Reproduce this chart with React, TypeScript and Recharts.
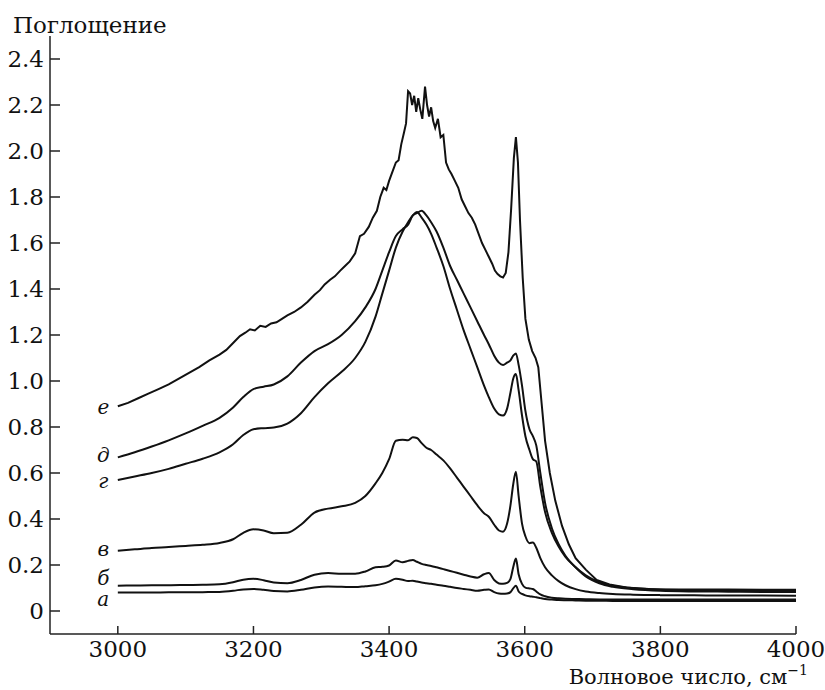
import React from 'react';
import { LineChart, Line, XAxis, YAxis, ReferenceDot, Label } from 'recharts';

// Shared wavenumber grid for curves а–д (cm^-1)
const wavenumbers = [
  3000, 3025, 3050, 3075, 3100, 3125, 3150, 3170, 3185, 3200, 3215, 3230, 3250, 3270, 3290, 3310, 3330, 3350,
  3365, 3380, 3390, 3400, 3410, 3420, 3428, 3435, 3441, 3448, 3455, 3462, 3470, 3480, 3490, 3500, 3510, 3520,
  3530, 3540, 3547, 3555, 3562, 3568, 3574, 3579, 3583, 3587, 3591, 3596, 3601, 3607, 3612, 3617, 3623, 3630,
  3640, 3650, 3660, 3675, 3690, 3710, 3730, 3760, 3800, 3850, 3900, 3950, 4000,
];

const curveA = [
  0.080, 0.080, 0.080, 0.081, 0.081, 0.082, 0.083, 0.088, 0.094, 0.096, 0.092, 0.087, 0.085, 0.092, 0.102, 0.106, 0.105, 0.104,
  0.108, 0.112, 0.118, 0.128, 0.140, 0.136, 0.130, 0.132, 0.128, 0.124, 0.121, 0.118, 0.114, 0.110, 0.105, 0.100, 0.096, 0.092,
  0.088, 0.092, 0.094, 0.082, 0.076, 0.075, 0.076, 0.082, 0.098, 0.110, 0.085, 0.074, 0.068, 0.064, 0.062, 0.060, 0.056, 0.052,
  0.050, 0.048, 0.047, 0.046, 0.045, 0.045, 0.044, 0.044, 0.043, 0.043, 0.043, 0.043, 0.043,
];

const curveB = [
  0.110, 0.111, 0.112, 0.112, 0.113, 0.114, 0.116, 0.125, 0.136, 0.140, 0.134, 0.124, 0.121, 0.135, 0.158, 0.165, 0.162, 0.162,
  0.172, 0.190, 0.192, 0.198, 0.220, 0.212, 0.218, 0.222, 0.214, 0.205, 0.200, 0.196, 0.190, 0.182, 0.174, 0.166, 0.158, 0.150,
  0.145, 0.160, 0.165, 0.135, 0.120, 0.118, 0.122, 0.140, 0.190, 0.228, 0.160, 0.118, 0.102, 0.098, 0.096, 0.085, 0.072, 0.064,
  0.058, 0.055, 0.053, 0.052, 0.051, 0.050, 0.050, 0.050, 0.050, 0.050, 0.050, 0.050, 0.050,
];

const curveV = [
  0.262, 0.268, 0.274, 0.278, 0.283, 0.288, 0.296, 0.312, 0.340, 0.355, 0.350, 0.338, 0.340, 0.375, 0.428, 0.445, 0.455, 0.470,
  0.500, 0.555, 0.600, 0.660, 0.740, 0.745, 0.742, 0.755, 0.752, 0.730, 0.710, 0.700, 0.680, 0.655, 0.620, 0.580, 0.540, 0.500,
  0.460, 0.425, 0.410, 0.375, 0.350, 0.345, 0.380, 0.460, 0.550, 0.605, 0.500, 0.380, 0.325, 0.295, 0.298, 0.275, 0.230, 0.190,
  0.155, 0.130, 0.112, 0.095, 0.085, 0.078, 0.074, 0.071, 0.069, 0.068, 0.067, 0.067, 0.066,
];

const curveG = [
  0.570, 0.585, 0.600, 0.618, 0.640, 0.662, 0.690, 0.725, 0.765, 0.790, 0.795, 0.798, 0.815, 0.860, 0.930, 0.990, 1.040, 1.100,
  1.170, 1.280, 1.380, 1.480, 1.580, 1.650, 1.690, 1.720, 1.735, 1.710, 1.680, 1.640, 1.580, 1.500, 1.400, 1.310, 1.220, 1.140,
  1.060, 0.980, 0.930, 0.880, 0.855, 0.850, 0.880, 0.950, 1.010, 1.030, 0.960, 0.850, 0.760, 0.700, 0.660, 0.650, 0.540, 0.430,
  0.340, 0.280, 0.235, 0.190, 0.150, 0.120, 0.105, 0.095, 0.088, 0.085, 0.084, 0.083, 0.083,
];

const curveD = [
  0.668, 0.690, 0.715, 0.742, 0.772, 0.805, 0.840, 0.885, 0.930, 0.965, 0.975, 0.985, 1.020, 1.080, 1.130, 1.160, 1.200, 1.260,
  1.320, 1.400, 1.480, 1.560, 1.630, 1.660, 1.680, 1.720, 1.730, 1.740, 1.720, 1.690, 1.650, 1.580, 1.500, 1.440, 1.380, 1.320,
  1.260, 1.200, 1.160, 1.110, 1.080, 1.070, 1.080, 1.090, 1.110, 1.120, 1.070, 0.980, 0.870, 0.790, 0.760, 0.720, 0.600, 0.470,
  0.360, 0.290, 0.240, 0.190, 0.155, 0.125, 0.110, 0.100, 0.093, 0.090, 0.089, 0.088, 0.088,
];

// Denser grid for the noisy top curve е
const wavenumbersE = [
  3000, 3015, 3030, 3045, 3060, 3075, 3090, 3105, 3120, 3135, 3150, 3160, 3170, 3180, 3188, 3195, 3202, 3210, 3218, 3226,
  3234, 3242, 3250, 3260, 3270, 3280, 3290, 3298, 3305, 3313, 3320, 3328, 3335, 3342, 3350, 3357, 3363, 3370, 3376, 3382,
  3387, 3392, 3396, 3400, 3405, 3410, 3414, 3418, 3422, 3425, 3428, 3431, 3434, 3437, 3440, 3443, 3446, 3449, 3453, 3456,
  3459, 3462, 3465, 3468, 3472, 3476, 3480, 3484, 3488, 3492, 3497, 3502, 3507, 3512, 3517, 3522, 3527, 3532, 3537, 3542,
  3547, 3552, 3556, 3560, 3564, 3568, 3572, 3576, 3580, 3584, 3587, 3590, 3593, 3597, 3601, 3606, 3611, 3616, 3620, 3625,
  3630, 3637, 3645, 3655, 3665, 3675, 3690, 3706, 3725, 3750, 3780, 3800, 3850, 3900, 3950, 4000,
];

const curveE = [
  0.890, 0.905, 0.925, 0.945, 0.965, 0.985, 1.010, 1.035, 1.060, 1.090, 1.115, 1.135, 1.165, 1.195, 1.210, 1.225, 1.220, 1.240, 1.235, 1.250,
  1.255, 1.270, 1.285, 1.300, 1.320, 1.345, 1.375, 1.395, 1.420, 1.440, 1.455, 1.480, 1.500, 1.520, 1.555, 1.630, 1.640, 1.670, 1.710, 1.740,
  1.800, 1.840, 1.830, 1.870, 1.910, 1.950, 1.960, 2.030, 2.080, 2.120, 2.260, 2.250, 2.200, 2.240, 2.170, 2.230, 2.180, 2.140, 2.280, 2.200,
  2.150, 2.190, 2.130, 2.100, 2.140, 2.060, 2.070, 1.950, 1.920, 1.900, 1.870, 1.840, 1.790, 1.760, 1.730, 1.710, 1.680, 1.640, 1.600, 1.570,
  1.540, 1.510, 1.480, 1.465, 1.455, 1.450, 1.470, 1.560, 1.750, 1.970, 2.060, 1.950, 1.700, 1.450, 1.270, 1.180, 1.130, 1.100, 1.060, 0.900,
  0.740, 0.600, 0.480, 0.370, 0.290, 0.230, 0.180, 0.135, 0.115, 0.102, 0.096, 0.094, 0.093, 0.093, 0.092, 0.092,
];

const xTicks = [3000, 3200, 3400, 3600, 3800, 4000];
const yTicks = [0, 0.2, 0.4, 0.6, 0.8, 1.0, 1.2, 1.4, 1.6, 1.8, 2.0, 2.2, 2.4];

const curveLetters = ['а', 'б', 'в', 'г', 'д', 'е'];
const letterX = 2978.6;
const letterY = [0.05, 0.14, 0.265, 0.562, 0.675, 0.883];

const toRows = (xs: number[], ys: number[]) => xs.map((x, i) => ({ x, y: ys[i] }));

const series = [
  { key: 'a', rows: toRows(wavenumbers, curveA), type: 'monotone' },
  { key: 'b', rows: toRows(wavenumbers, curveB), type: 'monotone' },
  { key: 'v', rows: toRows(wavenumbers, curveV), type: 'monotone' },
  { key: 'g', rows: toRows(wavenumbers, curveG), type: 'monotone' },
  { key: 'd', rows: toRows(wavenumbers, curveD), type: 'monotone' },
  { key: 'e', rows: toRows(wavenumbersE, curveE), type: 'linear' },
];

const FONT = 'DejaVu Serif';
const INK = '#111';
const textStyle = { fontFamily: FONT };

export default function App() {
  return (
    <div style={{ position: 'absolute', left: 0, top: 0, background: '#fff', fontFamily: FONT }}>
      <LineChart width={825} height={690} margin={{ top: 36, right: 29, left: 0, bottom: 0 }} style={textStyle}>
        <XAxis
          type="number"
          dataKey="x"
          domain={[2900, 4000]}
          ticks={xTicks}
          interval={0}
          allowDataOverflow
          height={56}
          tickSize={-8}
          tickMargin={15}
          axisLine={{ stroke: '#222', strokeWidth: 1.5 }}
          tickLine={{ stroke: '#222', strokeWidth: 1.5 }}
          tick={{ fill: INK, fontSize: 23, fontFamily: FONT, style: textStyle }}
        >
          <Label
            content={() => (
              <text x={808} y={684} textAnchor="end" fill={INK} fontSize={21} style={textStyle}>
                Волновое число, см
                <tspan dy={-9} fontSize={14}>−1</tspan>
              </text>
            )}
          />
        </XAxis>
        <YAxis
          type="number"
          domain={[-0.1, 2.5]}
          ticks={yTicks}
          interval={0}
          allowDataOverflow
          width={50}
          tickSize={-10}
          tickMargin={16}
          axisLine={{ stroke: '#222', strokeWidth: 1.5 }}
          tickLine={{ stroke: '#222', strokeWidth: 1.5 }}
          tick={{ fill: INK, fontSize: 23, fontFamily: FONT, style: textStyle }}
          tickFormatter={(v: number) => (v === 0 ? '0' : v.toFixed(1))}
        >
          <Label
            content={() => (
              <text x={13} y={33} fill={INK} fontSize={23} style={textStyle}>
                Поглощение
              </text>
            )}
          />
        </YAxis>
        {series.map((s) => (
          <Line
            key={s.key}
            data={s.rows}
            dataKey="y"
            type={s.type as any}
            stroke={INK}
            strokeWidth={2}
            dot={false}
            activeDot={false}
            isAnimationActive={false}
          />
        ))}
        {curveLetters.map((letter, i) => (
          <ReferenceDot
            key={letter}
            x={letterX}
            y={letterY[i]}
            r={0.01}
            fill="none"
            stroke="none"
            ifOverflow="visible"
            label={{
              content: (p: any) => {
                const vb = p.viewBox || {};
                const cx = (vb.x ?? 0) + (vb.width ?? 0) / 2;
                const cy = (vb.y ?? 0) + (vb.height ?? 0) / 2;
                return (
                  <text x={cx} y={cy + 6} textAnchor="middle" fill={INK} fontSize={20} fontStyle="italic" style={textStyle}>
                    {letter}
                  </text>
                );
              },
            }}
          />
        ))}
      </LineChart>
    </div>
  );
}
